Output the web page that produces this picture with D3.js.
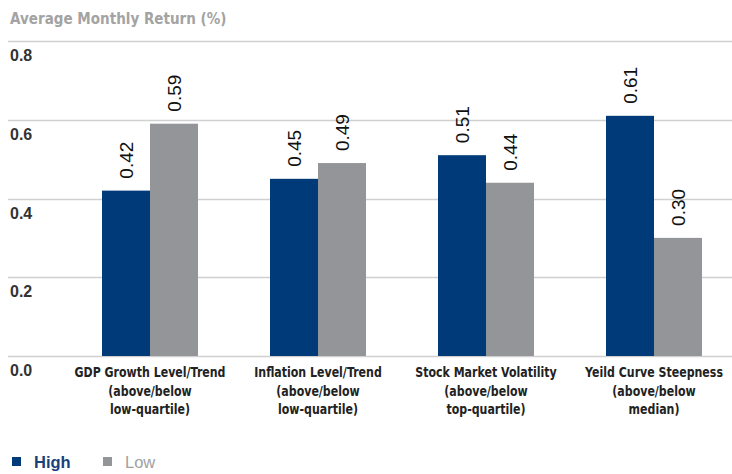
<!DOCTYPE html>
<html><head><meta charset="utf-8">
<script src="https://cdn.jsdelivr.net/npm/d3@7"></script>
<style>body{margin:0;background:#fff}svg{display:block}</style>
</head><body><svg id="c" width="732" height="474"></svg>
<script>
const categories = [
  ["GDP Growth Level/Trend","(above/below","low-quartile)"],
  ["Inflation Level/Trend","(above/below","low-quartile)"],
  ["Stock Market Volatility","(above/below","top-quartile)"],
  ["Yeild Curve Steepness","(above/below","median)"]
];
const highValues = [0.42, 0.45, 0.51, 0.61];
const lowValues = [0.59, 0.49, 0.44, 0.30];
const yTicks = [0.0, 0.2, 0.4, 0.6, 0.8];
const seriesNames = ["High", "Low"];
const colors = ["#003a78", "#939598"];

const svg = d3.select("#c");
const x = d3.scaleBand().domain(d3.range(categories.length)).range([66, 738]).paddingInner(0.4286).paddingOuter(0.2143);
const xs = d3.scaleBand().domain([0,1]).range([0, x.bandwidth()]);
const y = d3.scaleLinear().domain([0, 0.8]).range([356, 41]);
const condensed = "'DejaVu Sans',sans-serif";

svg.append("text").attr("transform", "translate(10,24) scale(0.82,1)").text("Average Monthly Return (%)")
  .attr("font-family", condensed).attr("font-weight", "bold")
  .attr("font-size", 16.5).attr("fill", "#a3a3a3");

svg.append("g").selectAll("line").data(yTicks).join("line")
  .attr("x1", 8).attr("x2", 732).attr("y1", d => Math.round(y(d)) + 0.5).attr("y2", d => Math.round(y(d)) + 0.5)
  .attr("stroke", "#d0d0d0").attr("stroke-width", 1.5);

svg.append("g").selectAll("text").data(yTicks).join("text")
  .attr("x", 10).attr("y", d => y(d) + 20).text(d => d.toFixed(1))
  .attr("font-family", "'Liberation Sans',Arial,sans-serif").attr("font-weight", "bold")
  .attr("font-size", 16).attr("fill", "#333");

const series = [highValues, lowValues];
series.forEach((vals, s) => {
  const g = svg.append("g");
  g.selectAll("rect").data(vals).join("rect")
    .attr("x", (d, i) => x(i) + xs(s)).attr("width", xs.bandwidth())
    .attr("y", d => y(d)).attr("height", d => y(0) - y(d)).attr("fill", colors[s]);
  g.selectAll("text").data(vals).join("text")
    .attr("transform", (d, i) => `translate(${x(i) + xs(s) + xs.bandwidth()/2 + 7},${y(d) - 12}) rotate(-90)`)
    .text(d => d.toFixed(2))
    .attr("font-family", "'Liberation Sans',Arial,sans-serif").attr("font-size", 19).attr("fill", "#111");
});

const cl = svg.append("g");
categories.forEach((lines, i) => {
  lines.forEach((t, k) => {
    cl.append("text").attr("transform", `translate(${x(i) + x.bandwidth()/2},${377 + k*18.5}) scale(0.76,1)`)
      .attr("text-anchor", "middle")
      .text(t).attr("font-family", condensed)
      .attr("font-weight", "bold").attr("font-size", 14.5).attr("fill", "#222");
  });
});

const lg = svg.append("g");
const lx = [12, 103];
seriesNames.forEach((n, s) => {
  lg.append("rect").attr("x", lx[s]).attr("y", 457).attr("width", 9).attr("height", 9).attr("fill", colors[s]);
  lg.append("text").attr("x", lx[s] + 22).attr("y", 468).text(n)
    .attr("font-family", "'Liberation Sans',Arial,sans-serif").attr("font-weight", s === 0 ? "bold" : "normal")
    .attr("font-size", 16.5).attr("fill", s === 0 ? "#1a3f7a" : "#a0a0a0");
});
</script></body></html>
